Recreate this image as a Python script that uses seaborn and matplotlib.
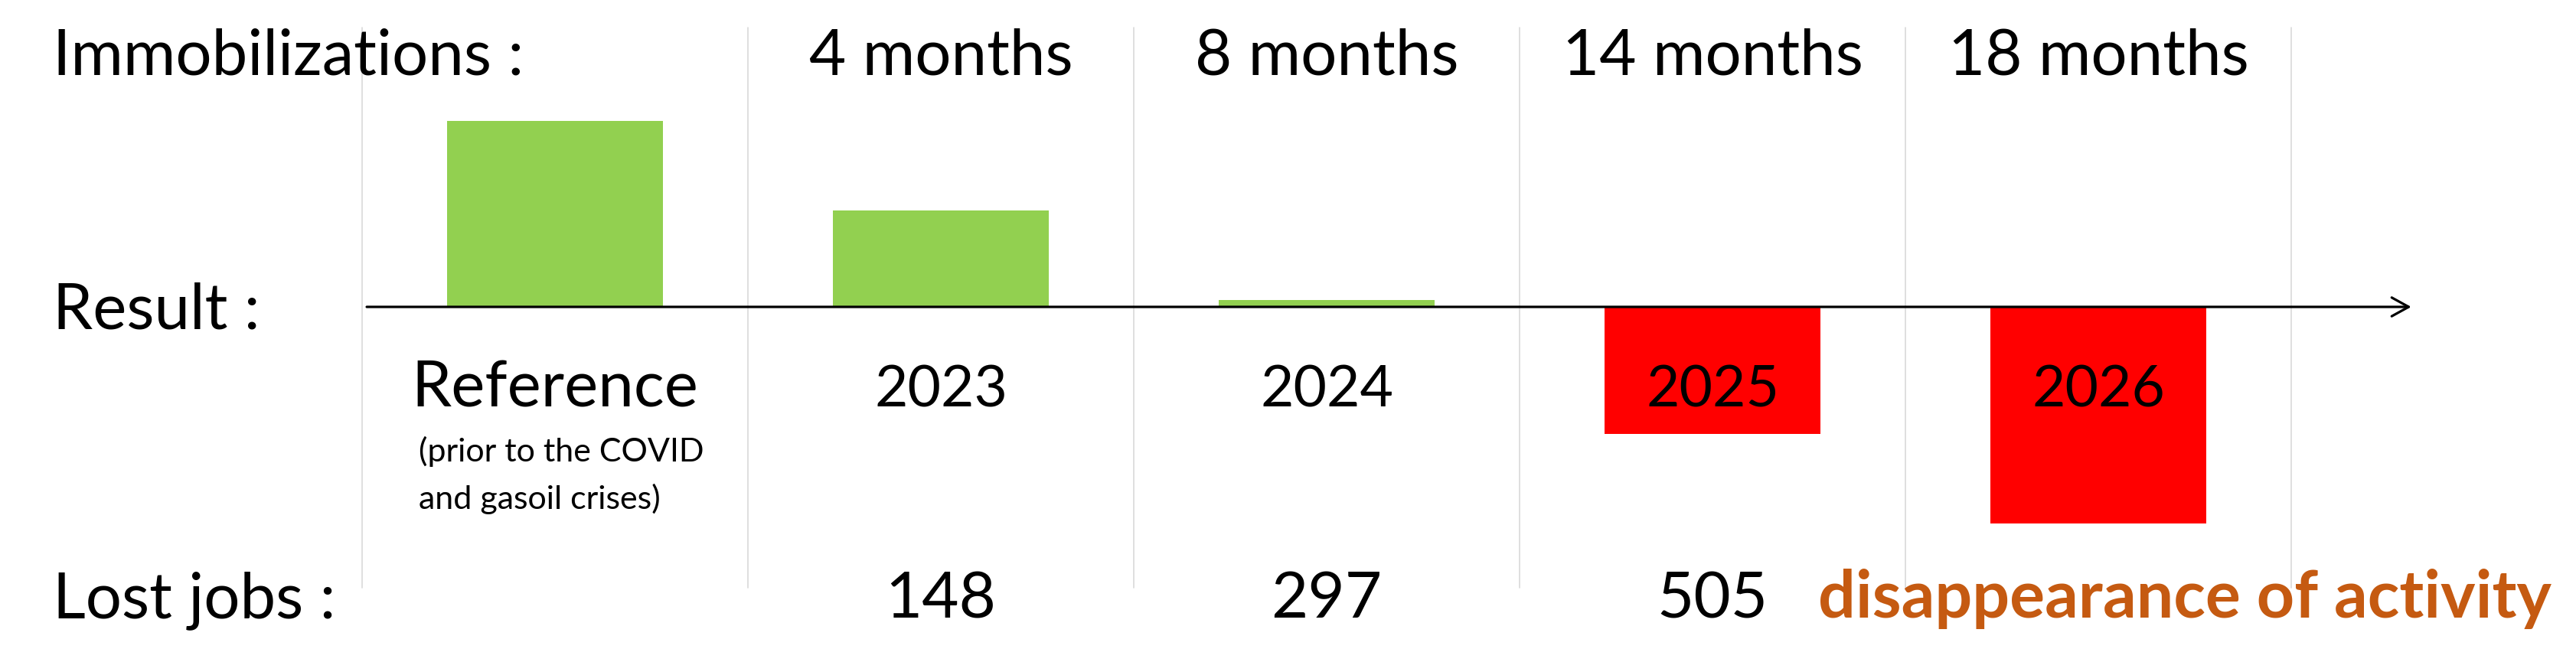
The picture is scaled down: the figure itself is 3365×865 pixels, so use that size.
import matplotlib.pyplot as plt
import numpy as np
import seaborn as sns

categories = ['Reference', '2023', '2024', '2025', '2026']
result = [243, 126, 9, -166, -283]
colors = ['#92D050', '#92D050', '#92D050', '#FF0000', '#FF0000']
immobilizations = ['4 months', '8 months', '14 months', '18 months']
lost_jobs = ['148', '297', '505']
reference_note = ['(prior to the COVID', 'and gasoil crises)']
end_note = 'disappearance of activity'

sns.set_style('white')
plt.rcParams['font.family'] = ['Lato', 'DejaVu Sans']
plt.rcParams['text.color'] = 'black'

fig = plt.figure(figsize=(33.66, 8.65), dpi=100)
ax = fig.add_axes([0, 0, 1, 1])

sns.barplot(x=categories, y=result, hue=categories, palette=colors, width=0.56,
            saturation=1, linewidth=0, legend=False, ax=ax)

ax.set_xlim(-1.4385, 5.24)
ax.set_ylim(-464, 401)
ax.axis('off')

# separateurs verticaux
for x in np.arange(len(categories) + 1) - 0.5:
    ax.plot([x, x], [-367, 365], color='#D9D9D9', lw=1.2, zorder=0)

# axe avec fleche
ax.annotate('', xy=(4.811, 0), xytext=(-0.488, 0),
            arrowprops=dict(arrowstyle='->,head_length=0.4,head_width=0.22',
                            lw=2.3, color='black', mutation_scale=40,
                            shrinkA=0, shrinkB=0), zorder=5)

big = 60
left_x = -1.3016
ax.text(left_x, 303, 'Immobilizations :', fontsize=big, va='baseline')
ax.text(left_x, -29, 'Result :', fontsize=big, va='baseline')
ax.text(left_x, -406, 'Lost jobs :', fontsize=big, va='baseline')

for i, lab in enumerate(immobilizations):
    ax.text(i + 1, 303, lab, fontsize=big, ha='center', va='baseline')

ax.text(0, -131, categories[0], fontsize=big, ha='center', va='baseline')
for k, line in enumerate(reference_note):
    ax.text(-0.353, -202 - 62 * k, line, fontsize=31, ha='left', va='baseline')
for i, lab in enumerate(categories[1:]):
    ax.text(i + 1, -131, lab, fontsize=54, ha='center', va='baseline', zorder=6)

for i, lab in enumerate(lost_jobs):
    ax.text(i + 1, -406, lab, fontsize=big, ha='center', va='baseline')
ax.text(3.274, -406, end_note, fontsize=62, fontweight='bold', color='#C55A11',
        ha='left', va='baseline')

fig.savefig('out.png', dpi=100)
